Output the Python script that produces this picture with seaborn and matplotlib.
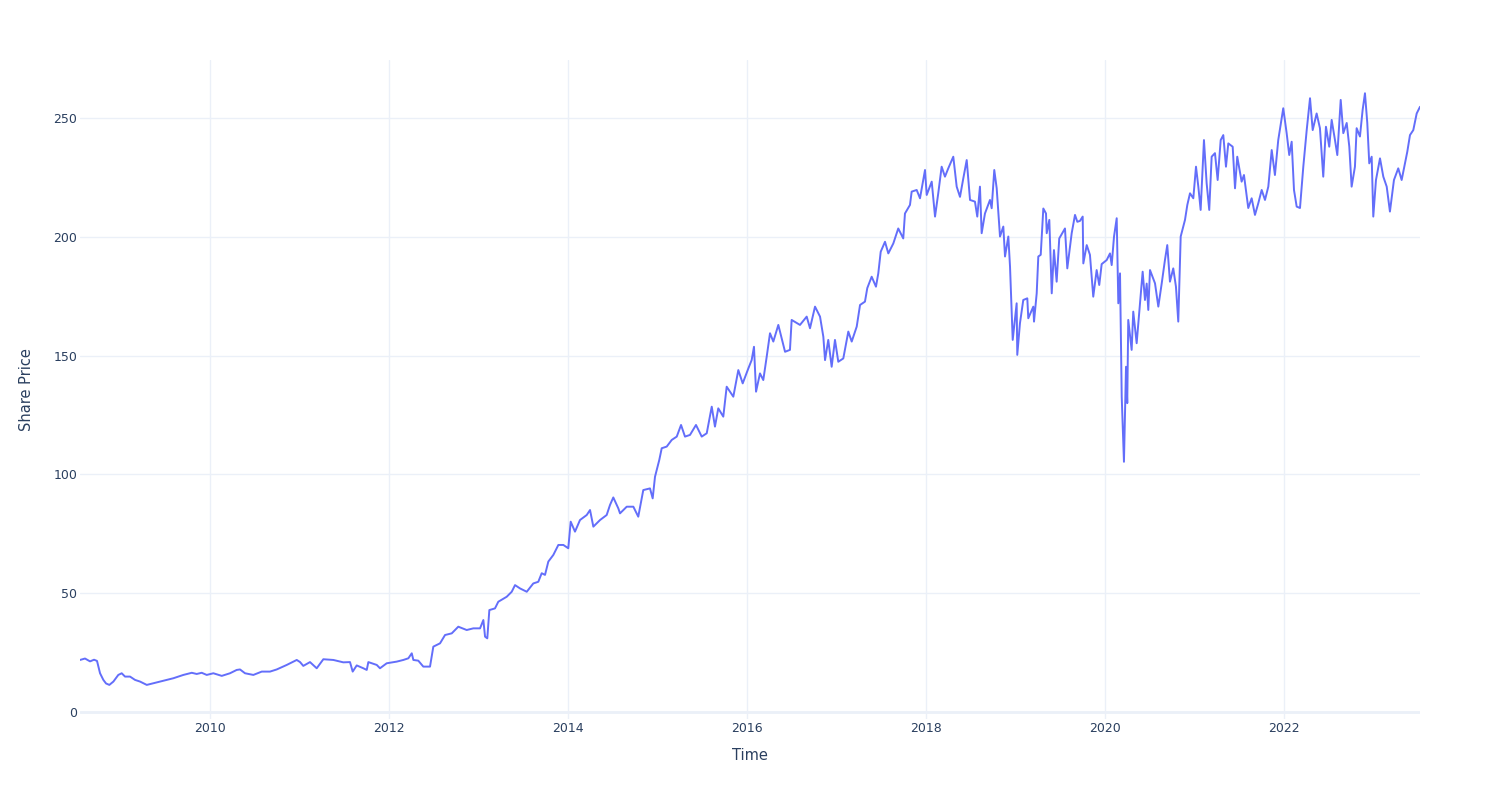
import matplotlib
matplotlib.use("Agg")
import matplotlib.pyplot as plt
import seaborn as sns
import pandas as pd

# Time in decimal years, price values
years = [
    2008.547, 2008.603, 2008.659, 2008.704, 2008.737, 2008.771, 2008.808, 2008.838, 2008.875, 2008.920,
    2008.975, 2009.013, 2009.050, 2009.106, 2009.162, 2009.218, 2009.293, 2009.366, 2009.441, 2009.516,
    2009.590, 2009.702, 2009.796, 2009.851, 2009.907, 2009.963, 2010.037, 2010.131, 2010.223, 2010.298,
    2010.335, 2010.391, 2010.484, 2010.578, 2010.670, 2010.745, 2010.857, 2010.969, 2011.006, 2011.042,
    2011.117, 2011.192, 2011.266, 2011.378, 2011.489, 2011.564, 2011.594, 2011.639, 2011.713, 2011.751,
    2011.769, 2011.863, 2011.899, 2011.974, 2012.086, 2012.160, 2012.216, 2012.254, 2012.272, 2012.327,
    2012.383, 2012.458, 2012.495, 2012.570, 2012.626, 2012.701, 2012.774, 2012.868, 2012.942, 2013.017,
    2013.054, 2013.073, 2013.098, 2013.121, 2013.184, 2013.221, 2013.315, 2013.371, 2013.408, 2013.464,
    2013.539, 2013.612, 2013.668, 2013.706, 2013.743, 2013.780, 2013.836, 2013.892, 2013.948, 2014.003,
    2014.030, 2014.078, 2014.134, 2014.209, 2014.246, 2014.283, 2014.358, 2014.432, 2014.469, 2014.506,
    2014.562, 2014.581, 2014.656, 2014.730, 2014.785, 2014.841, 2014.916, 2014.946, 2014.972, 2015.020,
    2015.047, 2015.103, 2015.159, 2015.215, 2015.263, 2015.307, 2015.363, 2015.430, 2015.494, 2015.550,
    2015.606, 2015.642, 2015.679, 2015.735, 2015.773, 2015.847, 2015.903, 2015.952, 2016.015, 2016.052,
    2016.078, 2016.101, 2016.145, 2016.182, 2016.220, 2016.257, 2016.294, 2016.350, 2016.425, 2016.480,
    2016.499, 2016.592, 2016.667, 2016.704, 2016.760, 2016.816, 2016.853, 2016.872, 2016.908, 2016.946,
    2016.983, 2017.020, 2017.076, 2017.132, 2017.170, 2017.226, 2017.263, 2017.318, 2017.344, 2017.393,
    2017.441, 2017.467, 2017.494, 2017.542, 2017.579, 2017.635, 2017.690, 2017.746, 2017.765, 2017.821,
    2017.840, 2017.896, 2017.933, 2017.989, 2018.008, 2018.064, 2018.101, 2018.137, 2018.175, 2018.212,
    2018.249, 2018.305, 2018.343, 2018.380, 2018.417, 2018.455, 2018.492, 2018.547, 2018.573, 2018.603,
    2018.622, 2018.659, 2018.715, 2018.734, 2018.763, 2018.790, 2018.827, 2018.864, 2018.883, 2018.920,
    2018.939, 2018.969, 2019.013, 2019.020, 2019.050, 2019.087, 2019.132, 2019.143, 2019.199, 2019.207,
    2019.237, 2019.255, 2019.282, 2019.311, 2019.341, 2019.349, 2019.378, 2019.405, 2019.430, 2019.460,
    2019.489, 2019.553, 2019.579, 2019.628, 2019.665, 2019.691, 2019.721, 2019.751, 2019.758, 2019.796,
    2019.832, 2019.869, 2019.907, 2019.936, 2019.963, 2020.019, 2020.056, 2020.075, 2020.101, 2020.131,
    2020.149, 2020.168, 2020.187, 2020.212, 2020.235, 2020.249, 2020.260, 2020.298, 2020.316, 2020.354,
    2020.391, 2020.421, 2020.447, 2020.466, 2020.484, 2020.503, 2020.559, 2020.596, 2020.634, 2020.670,
    2020.696, 2020.726, 2020.763, 2020.793, 2020.819, 2020.846, 2020.894, 2020.920, 2020.950, 2020.987,
    2021.017, 2021.043, 2021.069, 2021.106, 2021.136, 2021.165, 2021.192, 2021.229, 2021.259, 2021.293,
    2021.322, 2021.352, 2021.378, 2021.427, 2021.453, 2021.478, 2021.527, 2021.553, 2021.601, 2021.639,
    2021.676, 2021.713, 2021.751, 2021.788, 2021.825, 2021.863, 2021.899, 2021.936, 2021.992, 2022.030,
    2022.059, 2022.086, 2022.112, 2022.142, 2022.179, 2022.216, 2022.254, 2022.291, 2022.321, 2022.365,
    2022.402, 2022.439, 2022.469, 2022.506, 2022.533, 2022.570, 2022.596, 2022.634, 2022.663, 2022.701,
    2022.730, 2022.756, 2022.793, 2022.812, 2022.849, 2022.879, 2022.905, 2022.931, 2022.953, 2022.980,
    2022.998, 2023.028, 2023.073, 2023.110, 2023.148, 2023.184, 2023.229, 2023.277, 2023.315, 2023.341,
    2023.378, 2023.408, 2023.445, 2023.483, 2023.520,
]

prices = [
    21.9, 22.5, 21.3, 22.0, 21.5, 16.3, 13.5, 12.0, 11.4, 12.8,
    15.6, 16.3, 14.9, 14.9, 13.5, 12.8, 11.4, 12.1, 12.8, 13.5,
    14.2, 15.6, 16.5, 16.0, 16.5, 15.6, 16.3, 15.2, 16.3, 17.7,
    17.9, 16.3, 15.6, 17.0, 17.0, 17.9, 19.8, 21.9, 21.0, 19.4,
    21.0, 18.4, 22.2, 21.9, 20.9, 21.0, 17.0, 19.6, 18.4, 17.7,
    21.0, 19.8, 18.4, 20.5, 21.2, 21.9, 22.6, 24.7, 21.9, 21.6,
    19.1, 19.1, 27.5, 28.9, 32.4, 33.1, 35.9, 34.5, 35.2, 35.2,
    38.7, 31.7, 31.0, 42.9, 43.6, 46.4, 48.5, 50.6, 53.4, 52.0,
    50.6, 54.1, 54.8, 58.4, 57.7, 63.3, 66.1, 70.3, 70.3, 68.9,
    80.1, 75.9, 80.8, 82.9, 85.0, 78.0, 80.8, 82.9, 87.1, 90.3,
    85.7, 83.6, 86.4, 86.4, 82.2, 93.4, 94.1, 89.9, 99.0, 106.1,
    111.0, 111.7, 114.5, 115.9, 120.8, 115.9, 116.6, 120.8, 115.9, 117.3,
    128.5, 120.1, 127.8, 124.3, 136.9, 132.7, 143.9, 138.3, 144.6, 148.1,
    153.7, 134.8, 142.5, 139.7, 149.5, 159.4, 155.9, 162.9, 151.6, 152.4,
    165.0, 162.9, 166.4, 161.5, 170.6, 166.4, 157.9, 148.1, 156.6, 145.3,
    156.6, 147.4, 148.8, 160.1, 155.9, 162.2, 171.3, 172.7, 178.4, 183.2,
    179.0, 184.6, 193.7, 197.9, 193.0, 197.2, 203.5, 199.3, 209.8, 213.4,
    219.0, 219.7, 216.2, 228.1, 217.6, 223.2, 208.5, 218.3, 229.5, 225.3,
    228.8, 233.7, 221.1, 216.8, 224.6, 232.3, 215.5, 214.8, 208.5, 221.1,
    201.5, 209.8, 215.5, 212.0, 228.1, 220.4, 200.1, 204.3, 191.7, 200.1,
    187.4, 156.6, 172.0, 150.3, 163.6, 173.4, 174.1, 165.7, 170.6, 164.3,
    176.2, 191.7, 192.4, 211.9, 209.8, 201.5, 207.1, 176.2, 194.4, 181.1,
    199.3, 203.5, 186.7, 201.5, 209.2, 206.3, 206.7, 208.5, 188.8, 196.5,
    192.4, 174.8, 186.0, 179.7, 188.5, 190.2, 193.0, 188.1, 200.1, 207.8,
    172.0, 184.6, 132.7, 105.3, 145.3, 130.0, 165.0, 152.4, 168.5, 155.2,
    172.0, 185.3, 173.4, 180.3, 169.2, 186.0, 180.4, 170.6, 180.4, 190.2,
    196.5, 181.1, 186.7, 179.0, 164.3, 200.1, 207.1, 213.4, 218.3, 216.2,
    229.5, 221.1, 211.3, 240.7, 222.5, 211.3, 233.7, 235.2, 223.9, 240.7,
    242.8, 229.5, 239.3, 237.9, 220.4, 233.7, 223.2, 226.0, 212.1, 216.2,
    209.2, 214.1, 219.7, 215.5, 221.1, 236.5, 226.0, 240.7, 254.1, 243.6,
    234.4, 240.0, 219.7, 212.7, 212.1, 229.5, 244.9, 258.3, 244.9, 251.9,
    245.7, 225.3, 246.3, 237.9, 249.2, 240.7, 234.4, 257.6, 243.6, 247.9,
    237.9, 221.1, 229.5, 245.7, 242.2, 253.4, 260.4, 247.9, 230.9, 233.7,
    208.5, 223.9, 233.0, 225.3, 221.1, 210.6, 223.9, 228.8, 223.9, 228.8,
    235.8, 242.8, 244.9, 251.9, 254.7,
]

x_ticks = [2010, 2012, 2014, 2016, 2018, 2020, 2022]
x_tick_labels = ["2010", "2012", "2014", "2016", "2018", "2020", "2022"]
y_ticks = [0, 50, 100, 150, 200, 250]
y_tick_labels = ["0", "50", "100", "150", "200", "250"]

df = pd.DataFrame({"Time": years, "Share Price": prices})

sns.set_theme(style="white")
plt.rcParams["font.family"] = ["DejaVu Sans"]

text_color = "#2a3f5f"
grid_color = "#ebf0f8"

fig = plt.figure(figsize=(15, 8), dpi=100)
ax = fig.add_axes([80 / 1500, 81 / 800, 1340 / 1500, 659 / 800])
ax.set_facecolor("white")

sns.lineplot(data=df, x="Time", y="Share Price", ax=ax, color="#636efa",
             linewidth=1.4, zorder=3)

ax.set_xlim(years[0], years[-1])
ax.set_ylim(-2.95, 274.4)

ax.set_xticks(x_ticks)
ax.set_xticklabels(x_tick_labels)
ax.set_yticks(y_ticks)
ax.set_yticklabels(y_tick_labels)

ax.grid(True, color=grid_color, linewidth=1.0, zorder=0)
ax.axhline(0, color=grid_color, linewidth=2.0, zorder=1)

for s in ax.spines.values():
    s.set_visible(False)

ax.tick_params(axis="both", length=0, labelsize=9, labelcolor=text_color)
ax.tick_params(axis="y", pad=2)
ax.tick_params(axis="x", pad=2.5)

ax.set_xlabel("Time", fontsize=10.5, color=text_color)
ax.set_ylabel("Share Price", fontsize=10.5, color=text_color)
ax.xaxis.set_label_coords(0.5, -0.056)
ax.yaxis.set_label_coords(-0.0396, 0.5)
ax.xaxis.label.set_verticalalignment("center")
ax.yaxis.label.set_verticalalignment("center")

fig.savefig("out.png", dpi=100, facecolor="white")
